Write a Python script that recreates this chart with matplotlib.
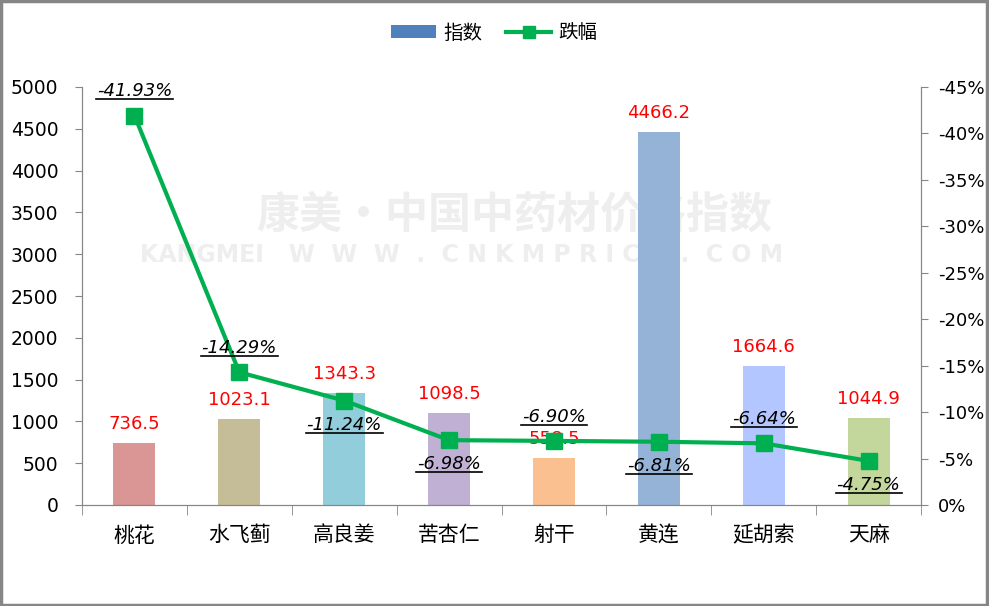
import matplotlib
matplotlib.use("Agg")
import matplotlib.pyplot as plt
from matplotlib.lines import Line2D
from matplotlib.patches import Patch, Rectangle

plt.rcParams["font.family"] = ["Noto Sans CJK SC", "DejaVu Sans"]

# --- data ---
herbs = ["桃花", "水飞蓟", "高良姜", "苦杏仁", "射干", "黄连", "延胡索", "天麻"]
index_values = [736.5, 1023.1, 1343.3, 1098.5, 558.5, 4466.2, 1664.6, 1044.9]
change_pct = [-41.93, -14.29, -11.24, -6.98, -6.90, -6.81, -6.64, -4.75]
# label above (+1) or below (-1) the marker
label_side = [1, 1, -1, -1, 1, -1, 1, -1]
bar_colors = ["#D99694", "#C4BD97", "#92CDDC", "#C0B0D4",
              "#FAC090", "#95B3D7", "#B4C6FF", "#C3D69B"]
left_ticks = [0, 500, 1000, 1500, 2000, 2500, 3000, 3500, 4000, 4500, 5000]
right_ticks = [0, -5, -10, -15, -20, -25, -30, -35, -40, -45]

W, H = 989, 606
fig = plt.figure(figsize=(W / 100, H / 100), dpi=100)
ax = fig.add_axes([82 / W, (H - 505) / H, (921 - 82) / W, (505 - 87) / H])
ax2 = ax.twinx()

x = list(range(len(herbs)))
ax.bar(x, index_values, width=0.4, color=bar_colors, zorder=2)
ax.set_xlim(-0.5, len(herbs) - 0.5)
ax.set_ylim(0, 5000)
ax.set_yticks(left_ticks)
ax.set_yticklabels([str(t) for t in left_ticks], family="DejaVu Sans")
ax.set_xticks(x)
ax.set_xticklabels(herbs, fontsize=15)
ax.set_xticks([i - 0.5 for i in range(len(herbs) + 1)], minor=True)
ax.tick_params(axis="x", which="major", length=0, pad=14)
ax.tick_params(axis="x", which="minor", length=7, color="#868686")
ax.tick_params(axis="y", labelsize=13.5, length=5, color="#868686", pad=12)

for i, v in enumerate(index_values):
    ax.text(i, v + 120, f"{v:.1f}", ha="center", va="bottom",
            color="red", fontsize=13, zorder=3, family="DejaVu Sans")

# watermark (behind the bars)
ax.text(0.515, 0.694, "康美·中国中药材价格指数", transform=ax.transAxes,
        ha="center", va="center", fontsize=31, fontweight="bold",
        color="#EEEEEE", zorder=1)
ax.text(0.452, 0.598, "KANGMEI   W  W  W  .  C N K M P R I C E  .  C O M",
        transform=ax.transAxes, ha="center", va="center", fontsize=17,
        fontweight="bold", color="#EEEEEE", zorder=1,
        family="DejaVu Sans")

ax2.plot(x, change_pct, color="#00B050", lw=3, marker="s", ms=11,
         markeredgecolor="#00B050", zorder=4)
ax2.set_ylim(0, -45)
ax2.set_yticks(right_ticks)
ax2.set_yticklabels([f"{t}%" for t in right_ticks], family="DejaVu Sans")
ax2.tick_params(axis="y", labelsize=13, length=5, color="#868686", pad=7)

pct_texts = []
for i, (p, s) in enumerate(zip(change_pct, label_side)):
    off = -2.6 if s > 0 else 2.6
    t = ax2.text(i, p + off, f"{p:.2f}%", ha="center", va="center",
                 fontsize=13, style="italic", color="black", zorder=5,
                 family="DejaVu Sans")
    pct_texts.append(t)

for a in (ax, ax2):
    a.spines["top"].set_visible(False)
    for sp in ("left", "right", "bottom"):
        a.spines[sp].set_color("#868686")

# legend
handles = [Patch(facecolor="#4F81BD", label="指数"),
           Line2D([], [], color="#00B050", lw=3, marker="s", ms=8, label="跌幅")]
fig.legend(handles=handles, loc="center", bbox_to_anchor=(0.5, 1 - 33 / H),
           ncol=2, frameon=False, fontsize=14, handlelength=2.3,
           handleheight=0.6, handletextpad=0.4, columnspacing=1.2)

# underline the percentage labels
fig.canvas.draw()
renderer = fig.canvas.get_renderer()
for t in pct_texts:
    bb = t.get_window_extent(renderer)
    y = bb.y0 + 1
    fig.add_artist(Line2D([bb.x0 - 1, bb.x1 + 1], [y, y], color="black",
                          lw=1.2, transform=None, zorder=6))

# outer border
fig.add_artist(Rectangle((0.001, 0.002), 0.997, 0.996, transform=fig.transFigure,
                         fill=False, edgecolor="#868686", lw=2.5))

fig.savefig("out.png", dpi=100)
